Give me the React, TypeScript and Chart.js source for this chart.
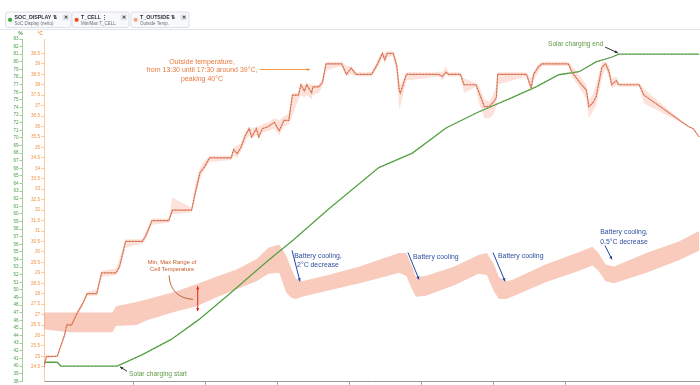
import React, { useEffect, useRef } from "react";
import { Chart, registerables } from "chart.js";

Chart.register(...registerables);

// ---- data (time = minutes since midnight) ----
const socTime = [585, 596, 599, 646, 667, 691, 714, 739, 772, 793, 822, 864, 892, 920, 947, 975, 995, 1014, 1031, 1045, 1058, 1064, 1131];
const socValue = [40.5, 40.5, 40, 40, 41.5, 43.5, 46.1, 49.4, 53.9, 56.6, 60.6, 66.1, 68, 71.3, 73.4, 75.3, 76.7, 78.3, 78.7, 80, 80.6, 81, 81];

const cellTime = [585, 606, 642, 645, 662, 672, 695, 712, 728, 745, 762, 772, 781, 787, 791, 795, 800, 822, 848, 868, 881, 887, 891, 895, 903, 927, 947, 954, 960, 964, 970, 975, 1003, 1031, 1042, 1047, 1053, 1060, 1087, 1114, 1131];
const cellMax = [27.1, 27.1, 27.1, 27.4, 27.6, 27.75, 28.1, 28.45, 28.8, 29.15, 29.65, 30.2, 30.35, 29.8, 29.2, 28.7, 28.6, 28.9, 29.3, 29.7, 29.95, 29.95, 29.4, 28.8, 28.85, 29.3, 29.85, 29.95, 29.4, 28.8, 28.6, 28.65, 29.4, 30.0, 30.25, 29.95, 29.4, 29.3, 29.95, 30.5, 31.0];
const cellMin = [26.3, 26.15, 26.15, 26.45, 26.5, 26.75, 27.15, 27.4, 27.8, 28.2, 28.6, 28.95, 29.0, 28.05, 27.8, 27.75, 27.85, 28.15, 28.5, 28.8, 29.0, 28.85, 28.3, 27.85, 27.9, 28.4, 28.95, 28.9, 28.1, 27.75, 27.75, 27.85, 28.55, 29.1, 29.35, 29.1, 28.6, 28.5, 29.0, 29.6, 30.05];

const outTime = [585, 587, 596, 602, 604, 608, 612, 617, 621, 629, 633, 645, 648, 653, 667, 670, 675, 689, 692, 708, 711, 715, 718, 723, 741, 743, 746, 749, 753, 756, 758, 762, 764, 767, 772, 777, 781, 785, 789, 792, 797, 799, 802, 804, 808, 809, 814, 817, 820, 833, 837, 841, 845, 858, 863, 867, 869, 871, 876, 879, 881, 882, 887, 914, 917, 920, 922, 932, 935, 945, 947, 952, 956, 960, 962, 963, 987, 991, 993, 997, 1000, 1022, 1025, 1033, 1037, 1039, 1042, 1045, 1050, 1053, 1056, 1058, 1062, 1064, 1081, 1085, 1122, 1126, 1131];
const outValue = [24.5, 25, 25, 26, 26.5, 26.5, 27, 27.5, 28, 28, 29, 29, 29.3, 30.5, 30.5, 30.8, 31.5, 31.5, 32, 32, 32.8, 33.8, 34, 34.5, 34.5, 34.9, 34.7, 35, 35.6, 35.9, 35.5, 35.9, 35.5, 35.9, 36, 36.2, 35.8, 36.3, 36.3, 37.5, 37.5, 38, 37.7, 38, 37.6, 37.9, 37.9, 38.1, 39, 39, 38.5, 38.8, 38.5, 38.5, 39, 39.5, 39.2, 39.5, 39.5, 38.9, 37.75, 37.6, 38.5, 38.5, 38.4, 38.6, 38.5, 38.5, 38, 38, 37.7, 36.95, 36.95, 37.2, 37.4, 38.5, 38.5, 37.85, 38.5, 38.85, 39, 39, 38.6, 38, 37.75, 36.95, 37.1, 37.4, 38.85, 39, 38.6, 38, 38.2, 38, 38, 37.5, 36, 35.9, 35.5];
const outMin = [24.5, 24.9, 25, 25.9, 26.4, 26.5, 26.9, 27.4, 27.9, 27.9, 28.8, 28.9, 29.2, 30.2, 30.4, 30.6, 31.3, 31.4, 31.8, 31.9, 32.6, 33.5, 33.9, 34.3, 34.4, 34.6, 34.5, 34.8, 35.3, 35.6, 35.4, 35.6, 35.4, 35.7, 35.8, 35.9, 35.6, 36.0, 36.1, 36.5, 37.3, 37.5, 37.4, 37.5, 37.3, 37.5, 37.6, 37.9, 38.7, 38.9, 38.4, 38.5, 38.4, 38.4, 38.8, 39.3, 39.0, 39.3, 39.4, 38.5, 36.8, 37.0, 38.2, 38.4, 38.2, 38.5, 38.4, 38.4, 37.6, 37.9, 37.2, 36.4, 36.4, 36.6, 37.0, 38.0, 38.4, 37.6, 38.2, 38.6, 38.9, 38.9, 38.4, 37.7, 37.3, 36.4, 36.7, 37.0, 38.3, 38.8, 38.3, 37.8, 38.0, 37.9, 37.9, 37.1, 36.0, 35.9, 35.5];
const outMax = [24.5, 25.0, 25.0, 26.1, 26.6, 26.6, 27.1, 27.6, 28.1, 28.2, 29.1, 29.2, 29.7, 30.6, 30.6, 31.0, 31.6, 31.6, 32.6, 32.1, 33.2, 34.0, 34.3, 34.6, 34.6, 35.0, 35.1, 35.2, 35.8, 36.0, 35.9, 36.0, 36.0, 36.1, 36.2, 36.4, 36.3, 36.5, 36.6, 37.6, 37.6, 38.1, 38.0, 38.1, 38.0, 38.0, 38.0, 38.3, 39.1, 39.1, 38.9, 38.9, 38.6, 38.6, 39.2, 39.6, 39.5, 39.6, 39.6, 39.2, 38.2, 38.0, 38.6, 38.6, 38.6, 38.9, 38.6, 38.6, 38.3, 38.1, 38.0, 37.3, 37.2, 37.6, 38.0, 38.6, 38.6, 38.3, 38.6, 39.0, 39.1, 39.1, 38.9, 38.3, 38.0, 37.3, 37.5, 38.0, 39.1, 39.1, 38.9, 38.3, 38.4, 38.1, 38.1, 37.8, 36.0, 35.9, 35.5];

// axis ranges
const timeMin = 585;
const timeMax = 1131.67;
const timeTickStep = 60;
const pctMin = 38;
const pctMax = 83;
const pctStep = 1;
const tempMin = 23.81;
const tempMax = 40.19;
const tempStep = 0.5;

// legend entries
const legendItems = [
  { name: "SOC_DISPLAY \u21C5", sub: "SoC Display (netto)", color: "#3ea43a" },
  { name: "T_CELL \u22EE", sub: "Min/Max T_CELL", color: "#e8501e" },
  { name: "T_OUTSIDE \u21C5", sub: "Outside Temp.", color: "#f7a287" },
];

const FAMILY = '"Liberation Sans", Arial, Helvetica, sans-serif';

const pts = (xs: number[], ys: number[]) => xs.map((x, i) => ({ x, y: ys[i] }));

// annotations in data coordinates
const textNotes = [
  { axis: "yT", x: 716.7, y: 39.09, lines: ["Outside temperature,", "from 13:30 until 17:30 around 39\u00B0C,", "peaking 40\u00B0C"], color: "#ea7a3d", size: 7, align: "center", lh: 8.4 },
  { axis: "yP", x: 1005, y: 82.34, lines: ["Solar charging end"], color: "#5f9a45", size: 6.6, align: "left", lh: 8 },
  { axis: "yP", x: 655.8, y: 38.92, lines: ["Solar charging start"], color: "#5f9a45", size: 6.7, align: "left", lh: 8 },
  { axis: "yT", x: 691.7, y: 29.51, lines: ["Min, Max Range of", "Cell Temperature"], color: "#c65a2a", size: 5.8, align: "center", lh: 6.8 },
  { axis: "yT", x: 813.3, y: 29.78, lines: ["Battery cooling,", "2\u00B0C decrease"], color: "#2f4f9f", size: 6.9, align: "center", lh: 8.8 },
  { axis: "yT", x: 892.5, y: 29.73, lines: ["Battery cooling"], color: "#2f4f9f", size: 6.9, align: "left", lh: 8.8 },
  { axis: "yT", x: 963.3, y: 29.78, lines: ["Battery cooling"], color: "#2f4f9f", size: 6.9, align: "left", lh: 8.8 },
  { axis: "yT", x: 1068.3, y: 30.93, lines: ["Battery cooling,", "0.5\u00B0C decrease"], color: "#2f4f9f", size: 6.9, align: "center", lh: 9.2 },
];

const arrowNotes = [
  { axis: "yT", x1: 765, y1: 38.73, x2: 806.7, y2: 38.73, color: "#f29a4a", both: false },
  { axis: "yP", x1: 1052.5, y1: 81.95, x2: 1063.3, y2: 81.16, color: "#26382a", both: false },
  { axis: "yP", x1: 654.2, y1: 39.31, x2: 648.3, y2: 39.9, color: "#26382a", both: false },
  { axis: "yT", x1: 713.1, y1: 28.36, x2: 713.1, y2: 27.17, color: "#e0251b", both: true },
  { axis: "yT", x1: 791.7, y1: 30.07, x2: 798.3, y2: 28.59, color: "#1f46a6", both: false },
  { axis: "yT", x1: 888.3, y1: 29.97, x2: 897.5, y2: 28.68, color: "#1f46a6", both: false },
  { axis: "yT", x1: 959.2, y1: 29.97, x2: 969.2, y2: 28.59, color: "#1f46a6", both: false },
  { axis: "yT", x1: 1052.5, y1: 30.3, x2: 1058.3, y2: 29.64, color: "#1f46a6", both: false },
];

function drawHead(ctx: CanvasRenderingContext2D, ax: number, ay: number, bx: number, by: number, size: number) {
  const a = Math.atan2(by - ay, bx - ax);
  ctx.beginPath();
  ctx.moveTo(bx, by);
  ctx.lineTo(bx - size * Math.cos(a - 0.45), by - size * Math.sin(a - 0.45));
  ctx.lineTo(bx - size * Math.cos(a + 0.45), by - size * Math.sin(a + 0.45));
  ctx.closePath();
  ctx.fill();
}

function roundRect(ctx: CanvasRenderingContext2D, x: number, y: number, w: number, h: number, r: number) {
  ctx.beginPath();
  ctx.moveTo(x + r, y);
  ctx.lineTo(x + w - r, y);
  ctx.quadraticCurveTo(x + w, y, x + w, y + r);
  ctx.lineTo(x + w, y + h - r);
  ctx.quadraticCurveTo(x + w, y + h, x + w - r, y + h);
  ctx.lineTo(x + r, y + h);
  ctx.quadraticCurveTo(x, y + h, x, y + h - r);
  ctx.lineTo(x, y + r);
  ctx.quadraticCurveTo(x, y, x + r, y);
  ctx.closePath();
}

const decorPlugin = {
  id: "decor",
  afterDraw(chart: any) {
    const ctx: CanvasRenderingContext2D = chart.ctx;
    const xs = chart.scales.x;
    const ys: any = { yP: chart.scales.yP, yT: chart.scales.yT };
    ctx.save();

    // legend strip
    const boxes = [
      { x: 5.5, w: 65.5 },
      { x: 72, w: 57 },
      { x: 131, w: 58 },
    ];
    legendItems.forEach((it, i) => {
      const b = boxes[i];
      roundRect(ctx, b.x, 12, b.w, 15.5, 2);
      ctx.fillStyle = "#f8f9fb";
      ctx.fill();
      ctx.strokeStyle = "#d3d8e0";
      ctx.lineWidth = 0.8;
      ctx.stroke();
      ctx.beginPath();
      ctx.arc(b.x + 4.6, 19.8, 2.1, 0, Math.PI * 2);
      ctx.fillStyle = it.color;
      ctx.fill();
      ctx.fillStyle = "#2c2f3a";
      ctx.font = `bold 5.3px ${FAMILY}`;
      ctx.textAlign = "left";
      ctx.textBaseline = "middle";
      ctx.fillText(it.name, b.x + 9, 17.2);
      ctx.fillStyle = "#6b6f78";
      ctx.font = `4.5px ${FAMILY}`;
      ctx.fillText(it.sub, b.x + 9, 24);
      const bx = b.x + b.w - 8.5;
      roundRect(ctx, bx, 14.2, 6.2, 6.2, 1);
      ctx.fillStyle = "#e4e7ee";
      ctx.fill();
      ctx.fillStyle = "#333";
      ctx.font = `bold 5px ${FAMILY}`;
      ctx.textAlign = "center";
      ctx.fillText("\u2715", bx + 3.1, 17.4);
    });
    ctx.strokeStyle = "#dfe2e8";
    ctx.lineWidth = 1;
    ctx.beginPath();
    ctx.moveTo(0, 29.5);
    ctx.lineTo(700, 29.5);
    ctx.stroke();

    // axis titles
    ctx.font = `bold 5px ${FAMILY}`;
    ctx.textAlign = "center";
    ctx.textBaseline = "middle";
    ctx.fillStyle = "#4f9a4f";
    ctx.fillText("%", ys.yP.right - 2, 33.5);
    ctx.fillStyle = "#f0923f";
    ctx.fillText("\u00B0C", ys.yT.right - 4, 33.5);

    // arrows
    arrowNotes.forEach((a) => {
      const y = ys[a.axis];
      const x1 = xs.getPixelForValue(a.x1), y1 = y.getPixelForValue(a.y1);
      const x2 = xs.getPixelForValue(a.x2), y2 = y.getPixelForValue(a.y2);
      ctx.strokeStyle = a.color;
      ctx.fillStyle = a.color;
      ctx.lineWidth = 1;
      ctx.beginPath();
      ctx.moveTo(x1, y1);
      ctx.lineTo(x2, y2);
      ctx.stroke();
      drawHead(ctx, x1, y1, x2, y2, 3.5);
      if (a.both) drawHead(ctx, x2, y2, x1, y1, 3.5);
    });

    // curved pointer for the min/max note
    const yT = ys.yT;
    ctx.strokeStyle = "#b4582c";
    ctx.lineWidth = 0.9;
    ctx.beginPath();
    ctx.moveTo(xs.getPixelForValue(689.2), yT.getPixelForValue(28.87));
    ctx.quadraticCurveTo(xs.getPixelForValue(690.5), yT.getPixelForValue(27.8), xs.getPixelForValue(709.2), yT.getPixelForValue(27.73));
    ctx.stroke();

    // texts
    textNotes.forEach((t) => {
      const y = ys[t.axis];
      const px = xs.getPixelForValue(t.x);
      const py = y.getPixelForValue(t.y);
      ctx.fillStyle = t.color;
      ctx.font = `${t.size}px ${FAMILY}`;
      ctx.textAlign = t.align as CanvasTextAlign;
      ctx.textBaseline = "middle";
      t.lines.forEach((l, i) => ctx.fillText(l, px, py + i * t.lh));
    });

    ctx.restore();
  },
};

const halfFilter = (step: number) => (s: any) => {
  s.ticks = s.ticks.filter((t: any) => Math.abs(t.value / step - Math.round(t.value / step)) < 1e-6);
};

export default function App() {
  const ref = useRef<HTMLCanvasElement | null>(null);

  useEffect(() => {
    if (!ref.current) return;
    const chart = new Chart(ref.current, {
      type: "line",
      data: {
        datasets: [
          { label: "T_CELL max", data: pts(cellTime, cellMax), yAxisID: "yT", borderColor: "rgba(0,0,0,0)", borderWidth: 0, pointRadius: 0, fill: false, order: 10 },
          { label: "T_CELL min", data: pts(cellTime, cellMin), yAxisID: "yT", borderColor: "rgba(0,0,0,0)", borderWidth: 0, pointRadius: 0, fill: 0, backgroundColor: "rgba(244,152,122,0.5)", order: 10 },
          { label: "T_OUTSIDE max", data: pts(outTime, outMax), yAxisID: "yT", borderColor: "rgba(0,0,0,0)", borderWidth: 0, pointRadius: 0, fill: false, order: 8 },
          { label: "T_OUTSIDE min", data: pts(outTime, outMin), yAxisID: "yT", borderColor: "rgba(0,0,0,0)", borderWidth: 0, pointRadius: 0, fill: 2, backgroundColor: "rgba(245,160,135,0.3)", order: 8 },
          { label: "SOC_DISPLAY", data: pts(socTime, socValue), yAxisID: "yP", borderColor: "#5aa84a", borderWidth: 1.3, pointRadius: 0, fill: false, order: 4 },
          { label: "SOC dots", data: pts(socTime, socValue), yAxisID: "yP", borderColor: "rgba(30,60,30,0.3)", borderWidth: 1, borderDash: [1, 2.5], pointRadius: 0, fill: false, order: 3 },
          { label: "T_OUTSIDE", data: pts(outTime, outValue), yAxisID: "yT", borderColor: "#f08a6a", borderWidth: 1.2, pointRadius: 0, fill: false, order: 2 },
          { label: "T_OUTSIDE dots", data: pts(outTime, outValue), yAxisID: "yT", borderColor: "rgba(60,40,40,0.42)", borderWidth: 1, borderDash: [1, 2.2], pointRadius: 0, fill: false, order: 1 },
        ],
      },
      options: {
        responsive: false,
        animation: false,
        layout: { padding: { top: 39, left: 0, right: 0, bottom: 0 } },
        plugins: { legend: { display: false }, tooltip: { enabled: false } },
        elements: { line: { tension: 0 }, point: { radius: 0 } },
        scales: {
          x: {
            type: "linear",
            min: timeMin,
            max: timeMax,
            grid: { drawOnChartArea: false, drawTicks: true, tickLength: 3.5, color: "#9a9a9a" },
            border: { color: "#9a9a9a" },
            ticks: { display: false, stepSize: timeTickStep },
            afterBuildTicks: halfFilter(timeTickStep),
            afterFit: (s: any) => { s.height = 2.5; },
          },
          yP: {
            type: "linear",
            position: "left",
            weight: 2,
            min: pctMin,
            max: pctMax,
            ticks: { stepSize: pctStep, autoSkip: false, color: "#4f9a4f", padding: 1, font: { size: 4.6, family: FAMILY } },
            grid: { drawOnChartArea: false, tickLength: 3, color: "#9fcf94" },
            border: { color: "#9fcf94" },
            afterBuildTicks: halfFilter(pctStep),
            afterFit: (s: any) => { s.width = 22.5; },
          },
          yT: {
            type: "linear",
            position: "left",
            weight: 1,
            min: tempMin,
            max: tempMax,
            ticks: {
              stepSize: tempStep,
              autoSkip: false,
              color: "#f0923f",
              padding: 1,
              font: { size: 4.6, family: FAMILY },
              callback: (v: any) => String(Math.round(Number(v) * 2) / 2),
            },
            grid: { drawOnChartArea: false, tickLength: 3, color: "#fbc9a0" },
            border: { color: "#fbc9a0" },
            afterBuildTicks: halfFilter(tempStep),
            afterFit: (s: any) => { s.width = 21.5; },
          },
        },
      },
      plugins: [decorPlugin],
    } as any);
    return () => chart.destroy();
  }, []);

  return (
    <div style={{ position: "absolute", left: 0, top: 0, width: 700, height: 385, background: "#fff", overflow: "hidden" }}>
      <canvas ref={ref} width={700} height={385} style={{ display: "block" }} />
    </div>
  );
}
